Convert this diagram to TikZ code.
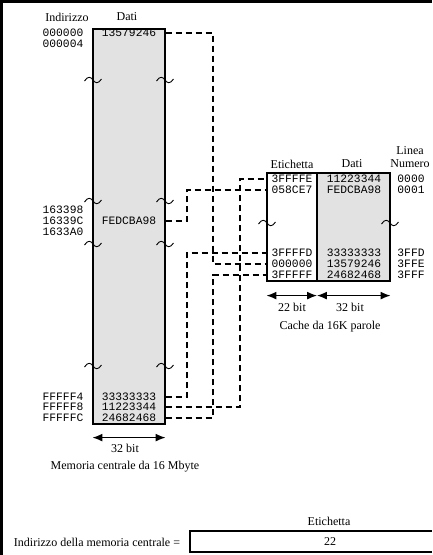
\documentclass[tikz,border=0pt]{standalone}
\usepackage{fontspec}
\setmainfont{Liberation Serif}
\setmonofont{Liberation Mono}
\usetikzlibrary{arrows.meta}
\definecolor{memgray}{HTML}{E2E2E2}

\begin{document}
\begin{tikzpicture}[x=1pt,y=-1pt,
  lbl/.style={font=\fontsize{12}{14}\selectfont,inner sep=0pt},
  hex/.style={font=\ttfamily\fontsize{11.3}{12}\selectfont,inner sep=0pt},
  block/.style={draw,line width=1.2pt,inner sep=0pt},
  link/.style={dash pattern=on 6pt off 4pt,line width=1.1pt},
  bitspan/.style={{Latex[length=10pt,width=8pt]}-{Latex[length=10pt,width=8pt]},line width=1.5pt},
  brk/.pic={\draw[line width=0.9pt] (-8.5,1) .. controls (-5,-4.5) and (-2,-3) .. (0,0) .. controls (2,3) and (5,4.5) .. (8.5,-1);}]
  \useasboundingbox (0,0) rectangle (432,555);
  \draw[line width=3pt] (1.5,555) -- (1.5,1.5) -- (432,1.5);

  % memoria centrale
  \node[block,fill=memgray,minimum width=72pt,minimum height=395pt] (mem) at (129,226.5) {};
  \node[lbl] (hAddr) at (67,17) {Indirizzo};
  \node[lbl] (hDat) at (127,17) {Dati};
  \node[hex] (a0) at (63,33) {000000};  \node[hex] (m0) at (129,33) {13579246};
  \node[hex] (a1) at (63,44) {000004};
  \node[hex] (a2) at (63,210) {163398};
  \node[hex] (a3) at (63,221) {16339C}; \node[hex] (m3) at (129,221) {FEDCBA98};
  \node[hex] (a4) at (63,232) {1633A0};
  \node[hex] (a5) at (63,397) {FFFFF4}; \node[hex] (m5) at (129,397) {33333333};
  \node[hex] (a6) at (63,407) {FFFFF8}; \node[hex] (m6) at (129,407) {11223344};
  \node[hex] (a7) at (63,418) {FFFFFC}; \node[hex] (m7) at (129,418) {24682468};
  \pic at (93,80) {brk};  \pic at (165,80) {brk};
  \pic at (93,201) {brk}; \pic at (165,201) {brk};
  \pic at (93,244) {brk}; \pic at (165,244) {brk};
  \pic at (93,366) {brk}; \pic at (165,366) {brk};
  \draw[bitspan] ([yshift=-13pt]mem.south west) -- ([yshift=-13pt]mem.south east);
  \node[lbl] (mbits) at (125,448) {32 bit};
  \node[lbl] (mname) at (125,467) {Memoria centrale da 16 Mbyte};

  % cache
  \node[block,minimum width=50pt,minimum height=108pt] (ctag) at (292,227) {};
  \node[block,fill=memgray,minimum width=73pt,minimum height=108pt] (cdat) at (353.5,227) {};
  \node[lbl] (hTag) at (292,164) {Etichetta};
  \node[lbl] (hCdat) at (352,164) {Dati};
  \node[lbl] (hLine) at (410,151) {Linea};
  \node[lbl] (hNum) at (410,164) {Numero};
  \node[hex] (t0) at (292,179) {3FFFFE}; \node[hex] (c0) at (354,179) {11223344}; \node[hex] (n0) at (411,179) {0000};
  \node[hex] (t1) at (292,190) {058CE7}; \node[hex] (c1) at (354,190) {FEDCBA98}; \node[hex] (n1) at (411,190) {0001};
  \node[hex] (t2) at (292,253) {3FFFFD}; \node[hex] (c2) at (354,253) {33333333}; \node[hex] (n2) at (411,253) {3FFD};
  \node[hex] (t3) at (292,264) {000000}; \node[hex] (c3) at (354,264) {13579246}; \node[hex] (n3) at (411,264) {3FFE};
  \node[hex] (t4) at (292,275) {3FFFFF}; \node[hex] (c4) at (354,275) {24682468}; \node[hex] (n4) at (411,275) {3FFF};
  \pic at (267,223) {brk}; \pic at (390,223) {brk};
  \draw[bitspan] ([yshift=-14pt]ctag.south west) -- ([yshift=-14pt,xshift=-0.5pt]ctag.south east);
  \draw[bitspan] ([yshift=-14pt,xshift=0.5pt]cdat.south west) -- ([yshift=-14pt]cdat.south east);
  \node[lbl] (tbits) at (292,307) {22 bit};
  \node[lbl] (dbits) at (350,307) {32 bit};
  \node[lbl] (cname) at (330,327) {Cache da 16K parole};

  % collegamenti
  \coordinate (chA) at (187,0);
  \coordinate (chB) at (213,0);
  \coordinate (chC) at (240,0);
  \draw[link] (mem.east |- m0) -| (chB |- t3) -- (ctag.west |- t3);
  \draw[link] (mem.east |- m3) -| (chA |- t1) -- (ctag.west |- t1);
  \draw[link] (mem.east |- m5) -| (chA |- t2) -- (ctag.west |- t2);
  \draw[link] (mem.east |- m6) -| (chC |- t0) -- (ctag.west |- t0);
  \draw[link] (mem.east |- m7) -| (chB |- t4) -- (ctag.west |- t4);

  % indirizzo
  \node[lbl] (addrlbl) at (97,542) {Indirizzo della memoria centrale =};
  \node[lbl] (etq) at (329,521) {Etichetta};
  \node[lbl] (tagval) at (330,542) {22};
  \draw[line width=1.2pt] (432,531) -- (190,531) -- (190,552) -- (432,552);
\end{tikzpicture}
\end{document}
